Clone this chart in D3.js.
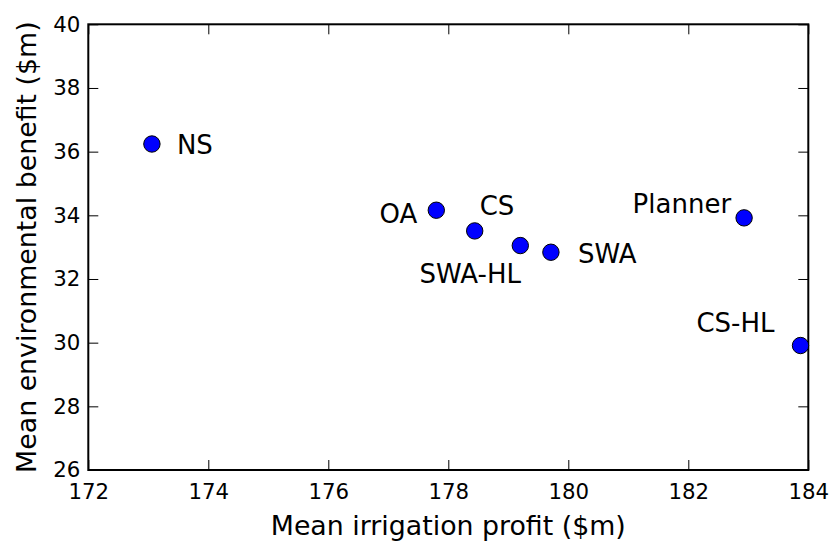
<!DOCTYPE html>
<html lang="en">
<head>
  <meta charset="UTF-8" />
  <title>Irrigation profit vs environmental benefit</title>
  <script src="https://d3js.org/d3.v7.min.js"></script>
  <style>
    body, html {
      margin: 0;
      padding: 0;
      background: #fff;
    }
    svg {
      display: block;
      font-family: "DejaVu Sans", sans-serif;
    }
  </style>
</head>
<body>
  <svg id="chart" width="833" height="542"></svg>
  <script>
    // Data
    const names = ['NS', 'OA', 'CS', 'SWA-HL', 'SWA', 'Planner', 'CS-HL'];
    const profit = [173.06, 177.80, 178.44, 179.20, 179.71, 182.93, 183.87];
    const benefit = [36.24, 34.16, 33.51, 33.05, 32.84, 33.92, 29.91];
    const xTicks = [172, 174, 176, 178, 180, 182, 184];
    const yTicks = [26, 28, 30, 32, 34, 36, 38, 40];

    // label placement relative to each point (px)
    const labelPos = {
      'NS': { dx: 25, dy: 10, anchor: 'start' },
      'OA': { dx: -19, dy: 13, anchor: 'end' },
      'CS': { dx: 5, dy: -16, anchor: 'start' },
      'SWA-HL': { dx: -50, dy: 37, anchor: 'middle' },
      'SWA': { dx: 27, dy: 11, anchor: 'start' },
      'Planner': { dx: -13, dy: -5, anchor: 'end' },
      'CS-HL': { dx: -26, dy: -14, anchor: 'end' }
    };

    const points = names.map((n, i) => ({ name: n, x: profit[i], y: benefit[i] }));

    const margin = { left: 88.3, right: 833 - 808.3, top: 24.3, bottom: 542 - 470 };
    const width = 833, height = 542;
    const svg = d3.select('#chart');

    const x = d3.scaleLinear().domain([172, 184]).range([margin.left, width - margin.right]);
    const y = d3.scaleLinear().domain([26, 40]).range([height - margin.bottom, margin.top]);

    const tickLen = 10;

    // bottom axis (ticks pointing in)
    const xAxis = svg.append('g')
      .attr('transform', `translate(0,${y(26)})`)
      .call(d3.axisBottom(x).tickValues(xTicks).tickSize(-tickLen).tickPadding(14).tickFormat(d3.format('d')));
    xAxis.selectAll('text').attr('font-size', 21.3).attr('font-family', 'DejaVu Sans').attr('fill', '#000');

    // top ticks
    svg.append('g')
      .attr('transform', `translate(0,${y(40)})`)
      .call(d3.axisTop(x).tickValues(xTicks).tickSize(-tickLen).tickFormat(''));

    // left axis
    const yAxis = svg.append('g')
      .attr('transform', `translate(${x(172)},0)`)
      .call(d3.axisLeft(y).tickValues(yTicks).tickSize(-tickLen).tickPadding(8).tickFormat(d3.format('d')));
    yAxis.selectAll('text').attr('font-size', 21.3).attr('font-family', 'DejaVu Sans').attr('fill', '#000');

    // right ticks
    svg.append('g')
      .attr('transform', `translate(${x(184)},0)`)
      .call(d3.axisRight(y).tickValues(yTicks).tickSize(-tickLen).tickFormat(''));

    svg.selectAll('.domain').remove();
    svg.selectAll('.tick line').attr('stroke', '#000').attr('stroke-width', 1);

    // frame
    svg.append('rect')
      .attr('x', x(172)).attr('y', y(40))
      .attr('width', x(184) - x(172)).attr('height', y(26) - y(40))
      .attr('fill', 'none').attr('stroke', '#000').attr('stroke-width', 2);

    // points
    svg.append('g')
      .selectAll('circle')
      .data(points)
      .enter().append('circle')
      .attr('cx', d => x(d.x))
      .attr('cy', d => y(d.y))
      .attr('r', 8.2)
      .attr('fill', '#0000ff')
      .attr('stroke', '#000')
      .attr('stroke-width', 1);

    // point labels
    svg.append('g')
      .selectAll('text')
      .data(points)
      .enter().append('text')
      .attr('x', d => x(d.x) + labelPos[d.name].dx)
      .attr('y', d => y(d.y) + labelPos[d.name].dy)
      .attr('text-anchor', d => labelPos[d.name].anchor)
      .attr('font-size', 26)
      .text(d => d.name);

    // axis titles
    svg.append('text')
      .attr('x', (x(172) + x(184)) / 2)
      .attr('y', 535)
      .attr('text-anchor', 'middle')
      .attr('font-size', 26.8)
      .text('Mean irrigation profit ($m)');

    svg.append('text')
      .attr('transform', `translate(36,${(y(26) + y(40)) / 2}) rotate(-90)`)
      .attr('text-anchor', 'middle')
      .attr('font-size', 26.8)
      .text('Mean environmental benefit ($m)');
  </script>
</body>
</html>
